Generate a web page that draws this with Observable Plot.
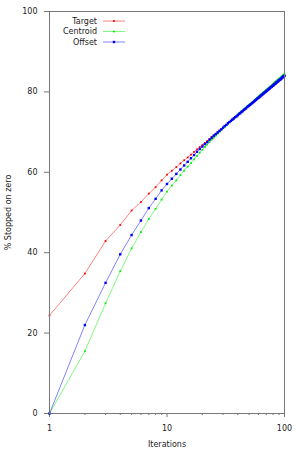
<!DOCTYPE html>
<html>
<head>
<meta charset="utf-8">
<script src="https://cdn.jsdelivr.net/npm/d3@7"></script>
<script src="https://cdn.jsdelivr.net/npm/@observablehq/plot@0.6"></script>
<style>
  html, body { margin: 0; padding: 0; background: #fff; }
  #chart svg { display: block; }
</style>
</head>
<body>
<div id="chart"></div>
<script>
const seriesNames = ["Target", "Centroid", "Offset"];
const seriesColors = ["#ff0000", "#00ee00", "#0000ff"];
const iterations = d3.range(1, 101);

const target = [
  24.4, 34.8, 42.9, 46.9, 50.5, 52.6, 54.7, 56.3, 58.0, 59.4,
  60.4, 61.3, 62.2, 63.0, 63.7, 64.4, 65.1, 65.7, 66.3, 66.8,
  67.3, 67.8, 68.3, 68.8, 69.2, 69.6, 70.0, 70.4, 70.8, 71.1,
  71.5, 71.8, 72.2, 72.5, 72.8, 73.1, 73.4, 73.7, 73.9, 74.2,
  74.5, 74.7, 75.0, 75.2, 75.5, 75.7, 75.9, 76.2, 76.4, 76.6,
  76.8, 77.0, 77.2, 77.4, 77.6, 77.8, 78.0, 78.2, 78.4, 78.5,
  78.7, 78.9, 79.1, 79.2, 79.4, 79.6, 79.7, 79.9, 80.0, 80.2,
  80.3, 80.5, 80.6, 80.8, 80.9, 81.1, 81.2, 81.3, 81.5, 81.6,
  81.7, 81.9, 82.0, 82.1, 82.3, 82.4, 82.5, 82.6, 82.8, 82.9,
  83.0, 83.1, 83.2, 83.3, 83.5, 83.6, 83.7, 83.8, 83.9, 84.0
];
const centroid = [
   0.0, 15.5, 27.4, 35.4, 41.1, 45.1, 48.4, 50.9, 53.2, 55.2,
  56.7, 58.0, 59.3, 60.4, 61.4, 62.3, 63.2, 64.1, 64.9, 65.6,
  66.3, 66.9, 67.5, 68.1, 68.6, 69.1, 69.6, 70.1, 70.5, 70.9,
  71.3, 71.7, 72.1, 72.5, 72.8, 73.1, 73.4, 73.7, 73.9, 74.4,
  74.7, 74.9, 75.2, 75.4, 75.7, 75.9, 76.1, 76.4, 76.6, 76.8,
  77.0, 77.2, 77.4, 77.6, 77.8, 78.0, 78.2, 78.4, 78.6, 78.8,
  79.0, 79.2, 79.4, 79.5, 79.7, 79.9, 80.0, 80.2, 80.3, 80.5,
  80.6, 80.8, 80.9, 81.1, 81.2, 81.4, 81.5, 81.6, 81.8, 82.0,
  82.1, 82.3, 82.4, 82.5, 82.7, 82.8, 82.9, 83.0, 83.2, 83.3,
  83.4, 83.5, 83.6, 83.7, 83.9, 84.0, 84.1, 84.2, 84.3, 84.4
];
const offset = [
   0.0, 22.0, 32.5, 39.6, 44.4, 48.0, 51.1, 53.4, 55.5, 57.1,
  58.4, 59.6, 60.7, 61.7, 62.6, 63.5, 64.3, 65.1, 65.8, 66.4,
  67.0, 67.5, 68.1, 68.6, 69.1, 69.5, 69.9, 70.3, 70.7, 71.1,
  71.5, 71.8, 72.2, 72.5, 72.8, 73.1, 73.4, 73.7, 73.9, 74.2,
  74.5, 74.7, 75.0, 75.2, 75.5, 75.7, 75.9, 76.2, 76.4, 76.6,
  76.8, 77.0, 77.2, 77.4, 77.6, 77.8, 78.0, 78.2, 78.4, 78.5,
  78.7, 78.9, 79.1, 79.2, 79.4, 79.6, 79.7, 79.9, 80.0, 80.2,
  80.3, 80.5, 80.6, 80.8, 80.9, 81.1, 81.2, 81.3, 81.5, 81.6,
  81.7, 81.9, 82.0, 82.1, 82.3, 82.4, 82.5, 82.6, 82.8, 82.9,
  83.0, 83.1, 83.2, 83.3, 83.5, 83.6, 83.7, 83.8, 83.9, 84.0
];
const yTicks = [0, 20, 40, 60, 80, 100];
const xTicks = [1, 10, 100];
const xMinorTicks = [2, 3, 4, 5, 6, 7, 8, 9, 20, 30, 40, 50, 60, 70, 80, 90];

const allValues = [target, centroid, offset];
const rows = seriesNames.map((name, s) =>
  iterations.map((it, i) => ({series: name, x: it, y: allValues[s][i]}))
);

const marks = [];
rows.forEach((data, s) => {
  marks.push(Plot.line(data, {x: "x", y: "y", stroke: seriesColors[s], strokeWidth: 0.9, strokeOpacity: 0.55}));
  marks.push(Plot.dot(data, {x: "x", y: "y", symbol: "square", r: s === 2 ? 1.35 : 1.0, fill: seriesColors[s], stroke: "none"}));
});

const chart = Plot.plot({
  width: 300,
  height: 450,
  marginLeft: 49,
  marginRight: 16,
  marginTop: 11,
  marginBottom: 37,
  style: {fontFamily: "DejaVu Sans", fontSize: "8px", color: "#222", background: "#fff"},
  x: {type: "log", domain: [1, 100]},
  y: {domain: [0, 100]},
  marks: [
    Plot.axisY({ticks: yTicks, tickSize: 5, tickPadding: 7, stroke: "#777", label: "% Stopped on zero", labelAnchor: "center", labelArrow: "none", labelOffset: 44}),
    Plot.axisX({ticks: xMinorTicks, tickSize: 2, stroke: "#777", tickFormat: () => "", label: null}),
    Plot.axisX({ticks: xTicks, tickSize: 4, tickPadding: 8, stroke: "#777", tickFormat: d => String(d), label: "Iterations", labelAnchor: "center", labelArrow: "none", labelOffset: 33}),
    ...marks,
    Plot.frame({stroke: "#777"})
  ]
});

document.getElementById("chart").appendChild(chart);

// legend (top-left inside plot)
const svg = d3.select(chart);
const lg = svg.append("g").attr("font-family", "DejaVu Sans").attr("font-size", 8).attr("fill", "#222");
seriesNames.forEach((name, i) => {
  const cy = 21 + i * 10.5;
  lg.append("text").attr("x", 97).attr("y", cy).attr("dy", "0.32em").attr("text-anchor", "end").text(name);
  lg.append("line").attr("x1", 103).attr("x2", 125).attr("y1", cy).attr("y2", cy)
    .attr("stroke", seriesColors[i]).attr("stroke-width", 0.9).attr("stroke-opacity", 0.55);
  const sz = i === 2 ? 2.4 : 1.8;
  lg.append("rect").attr("x", 114 - sz / 2).attr("y", cy - sz / 2).attr("width", sz).attr("height", sz)
    .attr("fill", seriesColors[i]);
});
</script>
</body>
</html>
